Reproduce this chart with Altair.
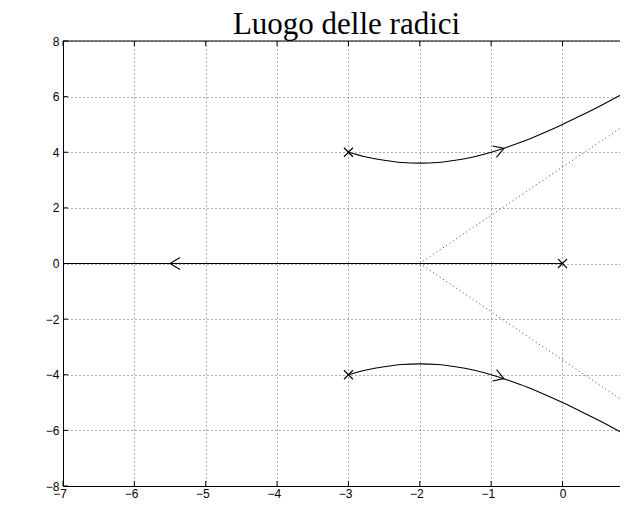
import altair as alt
import pandas as pd

# ---- data ----
x_ticks = [-7, -6, -5, -4, -3, -2, -1, 0]
y_ticks = [-8, -6, -4, -2, 0, 2, 4, 6, 8]

# complex branch (upper); lower branch is its mirror image
branch_x = [-3, -2.75, -2.5, -2.25, -2, -1.75, -1.5, -1.25, -1, -0.75, -0.5, -0.25, 0, 0.25, 0.5, 0.75, 1]
branch_up_y = [4.00, 3.83, 3.71, 3.63, 3.61, 3.63, 3.71, 3.83, 4.00, 4.21, 4.44, 4.71, 5.00, 5.31, 5.63, 5.97, 6.32]
branch_lo_y = [-v for v in branch_up_y]

# real-axis branch
real_x = [-7, 0]
real_y = [0, 0]

# asymptotes (dotted)
asym_x = [-2, 1]
asym_up_y = [0, 5.2]
asym_lo_y = [0, -5.2]

# open-loop poles
pole_x = [0, -3, -3]
pole_y = [0, 4, -4]

# direction arrows
arrow_x = [-0.82, -0.82, -5.5]
arrow_y = [4.14, -4.14, 0]
arrow_angle = [341, 19, 180]

W, H = 557, 445
X_DOMAIN = [-7, 0.806]
Y_DOMAIN = [-8, 8]

rows = []
for x, y in zip(real_x, real_y):
    rows.append({"b": "real", "x": x, "y": y})
for x, y in zip(branch_x, branch_up_y):
    rows.append({"b": "up", "x": x, "y": y})
for x, y in zip(branch_x, branch_lo_y):
    rows.append({"b": "lo", "x": x, "y": y})
lines_df = pd.DataFrame(rows)

arows = []
for x, y in zip(asym_x, asym_up_y):
    arows.append({"b": "up", "x": x, "y": y})
for x, y in zip(asym_x, asym_lo_y):
    arows.append({"b": "lo", "x": x, "y": y})
asym_df = pd.DataFrame(arows)

poles_df = pd.DataFrame({"x": pole_x, "y": pole_y})
arrows_df = pd.DataFrame({"x": arrow_x, "y": arrow_y, "a": arrow_angle})

xs = alt.Scale(domain=X_DOMAIN, nice=False, zero=False)
ys = alt.Scale(domain=Y_DOMAIN, nice=False, zero=False)

x_axis = alt.Axis(values=x_ticks, title=None, grid=True, tickSize=0, format="d",
                  labelAlign="right", labelOffset=3.5, labelPadding=2,
                  labelOverlap=False, labelBound=False, labelFlush=False)
y_axis = alt.Axis(values=y_ticks, title=None, grid=True, tickSize=0, format="d",
                  labelPadding=4, labelOverlap=False, labelBound=False, labelFlush=False)

base_axes = alt.Chart(pd.DataFrame({"x": [X_DOMAIN[0]], "y": [Y_DOMAIN[0]]})).mark_point(opacity=0).encode(
    x=alt.X("x:Q", scale=xs, axis=x_axis),
    y=alt.Y("y:Q", scale=ys, axis=y_axis),
)

asym = alt.Chart(asym_df).mark_line(color="#444", strokeWidth=1, strokeDash=[1, 3], clip=True).encode(
    x=alt.X("x:Q", scale=xs), y=alt.Y("y:Q", scale=ys), detail="b:N"
)

lines = alt.Chart(lines_df).mark_line(color="black", strokeWidth=1.1, interpolate="monotone", clip=True).encode(
    x=alt.X("x:Q", scale=xs), y=alt.Y("y:Q", scale=ys), detail="b:N"
)

poles = alt.Chart(poles_df).mark_point(
    shape="M-1,-1L1,1M-1,1L1,-1", size=81, color="black", filled=False, strokeWidth=1.1, opacity=1
).encode(x=alt.X("x:Q", scale=xs), y=alt.Y("y:Q", scale=ys))

arrows = alt.Chart(arrows_df).mark_point(
    shape="M-1,-0.6L0,0L-1,0.6", size=400, color="black", filled=False, strokeWidth=1.1, opacity=1
).encode(x=alt.X("x:Q", scale=xs), y=alt.Y("y:Q", scale=ys), angle=alt.Angle("a:Q", scale=None))

xt_df = pd.DataFrame({"x": x_ticks})
yt_df = pd.DataFrame({"y": y_ticks})
ticks_bottom = alt.Chart(xt_df).mark_rule(color="black", strokeWidth=1).encode(
    x=alt.X("x:Q", scale=xs), y=alt.value(H), y2=alt.value(H - 5))
ticks_top = alt.Chart(xt_df).mark_rule(color="black", strokeWidth=1).encode(
    x=alt.X("x:Q", scale=xs), y=alt.value(0), y2=alt.value(5))
ticks_left = alt.Chart(yt_df).mark_rule(color="black", strokeWidth=1).encode(
    y=alt.Y("y:Q", scale=ys), x=alt.value(0), x2=alt.value(5))
top_border = alt.Chart(pd.DataFrame({"y": [Y_DOMAIN[1]]})).mark_rule(color="black", strokeWidth=1).encode(
    y=alt.Y("y:Q", scale=ys), x=alt.value(0), x2=alt.value(W))

chart = alt.layer(
    base_axes, asym, lines, poles, arrows, ticks_bottom, ticks_top, ticks_left, top_border
).properties(
    width=W, height=H,
    title=alt.TitleParams("Luogo delle radici", font="Liberation Serif", fontSize=31,
                          fontWeight="normal", color="black", anchor="middle",
                          baseline="alphabetic", offset=2, dx=5, dy=32),
    autosize=alt.AutoSizeParams(type="none"),
    padding={"left": 55, "top": 33, "right": 0, "bottom": 13},
).configure_view(stroke=None).configure_axis(
    labelFont="Liberation Sans", labelFontSize=12, labelColor="black",
    domainColor="black", domainWidth=1,
    gridColor="#555", gridDash=[1, 3], gridWidth=1, gridOpacity=1,
)

chart.save("out.html", embed_options={"renderer": "svg", "actions": False})
